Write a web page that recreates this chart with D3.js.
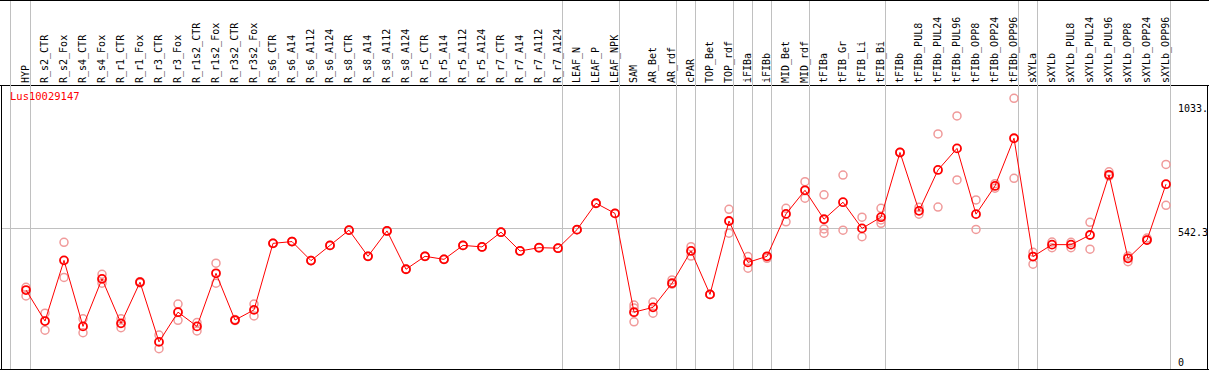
<!DOCTYPE html>
<html><head><meta charset="utf-8">
<script src="https://cdn.jsdelivr.net/npm/d3@7"></script>
<style>body{margin:0;background:#fff}svg{display:block}</style>
</head><body><svg id="c" width="1209" height="370"></svg>
<script>
const categories = ["HYP","R_s2_CTR","R_s2_Fox","R_s4_CTR","R_s4_Fox","R_r1_CTR","R_r1_Fox","R_r3_CTR","R_r3_Fox","R_r1s2_CTR","R_r1s2_Fox","R_r3s2_CTR","R_r3s2_Fox","R_s6_CTR","R_s6_A14","R_s6_A112","R_s6_A124","R_s8_CTR","R_s8_A14","R_s8_A112","R_s8_A124","R_r5_CTR","R_r5_A14","R_r5_A112","R_r5_A124","R_r7_CTR","R_r7_A14","R_r7_A112","R_r7_A124","LEAF_N","LEAF_P","LEAF_NPK","SAM","AR_Bet","AR_rdf","cPAR","TOP_Bet","TOP_rdf","iFIBa","iFIBb","MID_Bet","MID_rdf","tFIBa","tFIB_Gr","tFIB_Li","tFIB_Bi","tFIBb","tFIBb_PUL8","tFIBb_PUL24","tFIBb_PUL96","tFIBb_OPP8","tFIBb_OPP24","tFIBb_OPP96","sXYLa","sXYLb","sXYLb_PUL8","sXYLb_PUL24","sXYLb_PUL96","sXYLb_OPP8","sXYLb_OPP24","sXYLb_OPP96"];
const means = [299,177,416,156,343,168,330,95,212,156,365,181,221,483,490,415,475,535,432,532,381,432,420,475,469,527,453,466,464,537,641,601,212,231,326,453,282,571,408,432,599,692,578,645,542,586,841,611,772,857,598,709,897,431,478,478,516,753,424,496,716];
const rep1 = [310,208,487,186,361,186,332,122,244,171,405,183,244,483,490,415,475,535,432,532,381,432,420,475,469,527,453,466,464,537,641,601,240,252,339,470,282,617,431,424,621,726,674,752,586,621,841,625,914,985,654,700,1054,448,466,487,566,765,411,496,794];
const rep2 = [276,141,349,131,326,151,327,68,180,138,326,179,197,483,490,415,475,535,432,532,381,432,420,475,469,527,453,466,464,537,641,601,174,208,322,433,282,523,385,430,568,661,540,535,509,562,841,598,626,733,538,718,739,401,488,466,460,748,433,504,633];
const rep3 = [null,null,null,null,null,null,null,null,null,null,null,null,null,null,null,null,null,null,null,null,null,null,null,null,null,null,null,null,null,null,null,null,228,null,null,null,null,null,null,null,null,null,523,null,null,575,null,null,null,null,null,null,null,null,null,null,null,null,null,null,null];
const groupEnds = ["HYP","R_r7_A124","LEAF_NPK","AR_rdf","cPAR","TOP_rdf","iFIBa","iFIBb","MID_rdf","tFIB_Bi","tFIBb_OPP96","sXYLa","sXYLb_OPP96"];
const yTickValues = [0, 542.3, 1033];
const yTickLabels = ["0", "542.3", "1033."];
const geneName = "Lus10029147";

const W = 1209, H = 370;
const svg = d3.select("#c");
const font = "'DejaVu Sans Mono', monospace";
const headerBottom = 85, plotBottom = 369;

const x = d3.scalePoint().domain(categories).range([26, 1166]);
const y = d3.scaleLinear().domain([0, 1033]).range([366, 103.7]);
const step = x.step();

// frame
svg.append("line").attr("x1",0).attr("x2",W).attr("y1",0.5).attr("y2",0.5).attr("stroke","#000");
svg.append("line").attr("x1",0).attr("x2",W).attr("y1",headerBottom+0.5).attr("y2",headerBottom+0.5).attr("stroke","#000");
svg.append("line").attr("x1",0).attr("x2",W).attr("y1",plotBottom+0.5).attr("y2",plotBottom+0.5).attr("stroke","#000");
svg.append("line").attr("x1",1.5).attr("x2",1.5).attr("y1",headerBottom).attr("y2",plotBottom).attr("stroke","#000");
svg.append("line").attr("x1",1207.5).attr("x2",1207.5).attr("y1",headerBottom).attr("y2",plotBottom).attr("stroke","#000");

// group separator lines
const sepX = [Math.round(x(categories[0]) - step + 3)].concat(groupEnds.map(c => Math.round(x(c) + 4)));
svg.selectAll("line.sep").data(sepX).join("line").attr("class","sep")
  .attr("x1", d => d + 0.5).attr("x2", d => d + 0.5)
  .attr("y1", 1).attr("y2", plotBottom)
  .attr("stroke", "#c0c0c0");

// horizontal grid at mid tick
svg.append("line").attr("x1",2).attr("x2",Math.round(x(categories[categories.length-1])+4))
  .attr("y1",Math.round(y(yTickValues[1]))+0.5).attr("y2",Math.round(y(yTickValues[1]))+0.5)
  .attr("stroke","#c0c0c0");

// header labels
svg.selectAll("text.cat").data(categories).join("text").attr("class","cat")
  .attr("transform", d => `translate(${Math.round(x(d))+3},83) rotate(-90)`)
  .attr("font-family", font).attr("font-size", 10).attr("fill","#000")
  .text(d => d);

// y axis labels
svg.selectAll("text.yl").data(yTickValues).join("text").attr("class","yl")
  .attr("x", 1178)
  .attr("y", d => d === 0 ? y(d) : y(d) + 8)
  .attr("font-family", font).attr("font-size", 10).attr("fill","#000")
  .text((d,i) => yTickLabels[i]);

// gene label
svg.append("text").attr("x",10).attr("y",100).attr("font-family",font).attr("font-size",10.5)
  .attr("fill","#ff0000").text(geneName);

// replicates
const reps = [];
categories.forEach((c,i) => {
  [rep1[i], rep2[i], rep3[i]].forEach(v => { if (v !== null) reps.push({c, v}); });
});
svg.selectAll("circle.rep").data(reps).join("circle").attr("class","rep")
  .attr("cx", d => x(d.c)).attr("cy", d => y(d.v)).attr("r", 4)
  .attr("fill","none").attr("stroke","#f09a9a").attr("stroke-width",1.5);

// mean line
const pts = categories.map((c,i) => ({c, v: means[i]}));
svg.append("path").datum(pts)
  .attr("d", d3.line().x(d => x(d.c)).y(d => y(d.v)))
  .attr("fill","none").attr("stroke","#ff0000").attr("stroke-width",1);

svg.selectAll("circle.mean").data(pts).join("circle").attr("class","mean")
  .attr("cx", d => x(d.c)).attr("cy", d => y(d.v)).attr("r", 4)
  .attr("fill","none").attr("stroke","#ff0000").attr("stroke-width",1.8);
</script></body></html>
